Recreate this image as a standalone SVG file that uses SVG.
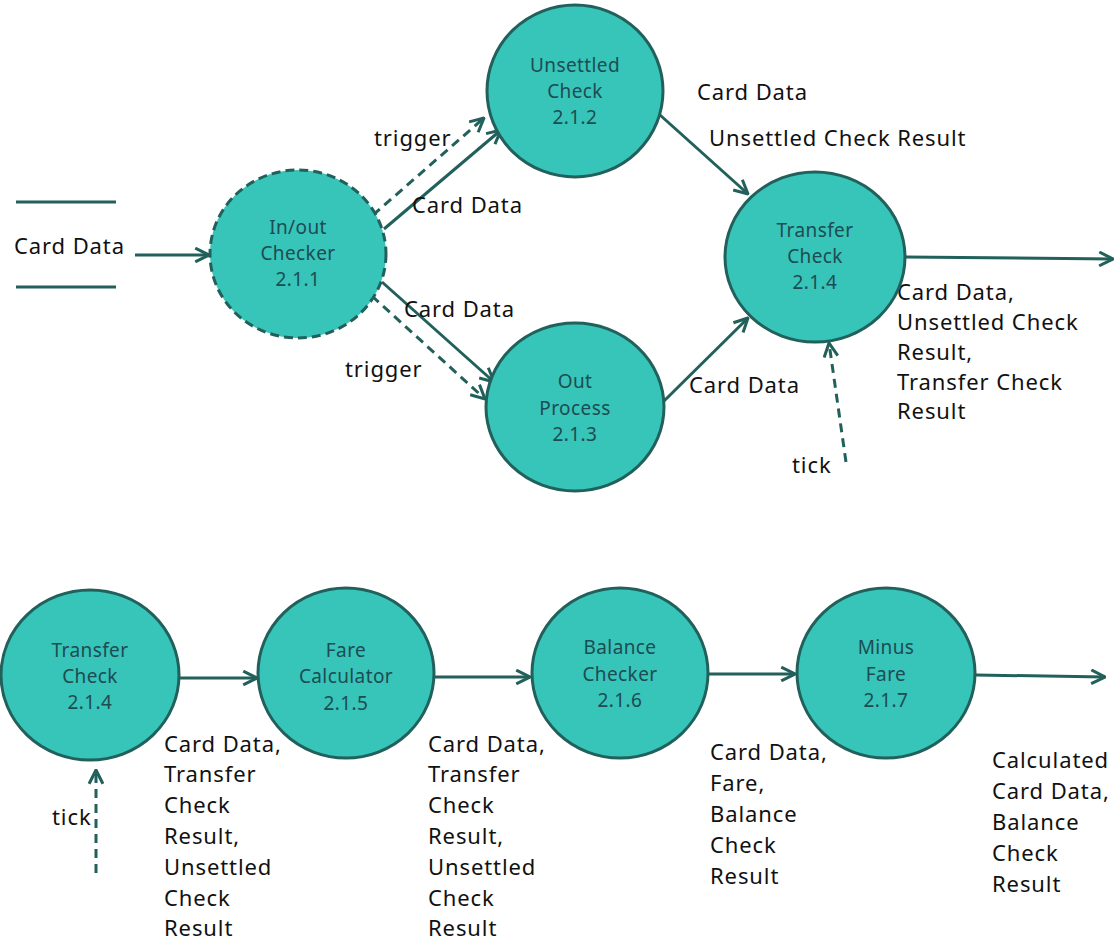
<svg xmlns="http://www.w3.org/2000/svg" width="1120" height="940" viewBox="0 0 1120 940">
  <style>
    .proc { fill: #37c4b9; stroke: #22605b; stroke-width: 3; }
    .proc.dashed { stroke-dasharray: 9 5; }
    .ntext { font-family: "Noto Sans", "Liberation Sans", sans-serif; font-size: 19px; letter-spacing: 0.4px; fill: #1d4c52; text-anchor: middle; }
    .label { font-family: "Noto Sans", "Liberation Sans", sans-serif; font-size: 22px; letter-spacing: 0.9px; fill: #111; }
    .flow { stroke: #22605b; stroke-width: 3; fill: none; marker-end: url(#arrow); }
    .flow.dashed { stroke-dasharray: 9 6; }
    .store { stroke: #22605b; stroke-width: 3; }
  </style>
  <defs>
    <marker id="arrow" viewBox="0 0 12 12" refX="11" refY="6" markerWidth="5.5" markerHeight="5.5" orient="auto" markerUnits="strokeWidth">
      <path d="M1,1 L11,6 L1,11" fill="none" stroke="#22605b" stroke-width="2.2"/>
    </marker>
  </defs>

  <rect width="1120" height="940" fill="#ffffff"/>

  <!-- data store: Card Data -->
  <g id="store-card-data">
    <line class="store" x1="16" y1="202" x2="116" y2="202"/>
    <line class="store" x1="16" y1="287" x2="116" y2="287"/>
    <text class="label" x="14" y="254">Card Data</text>
  </g>

  <!-- connectors -->
  <g id="connectors">
    <line class="flow" x1="135" y1="255" x2="209" y2="255"/>
    <line class="flow dashed" x1="373" y1="215" x2="484" y2="118"/>
    <line class="flow" x1="384" y1="229" x2="501" y2="130"/>
    <line class="flow" x1="382" y1="282" x2="494" y2="382"/>
    <line class="flow dashed" x1="372" y1="296" x2="485" y2="399"/>
    <line class="flow" x1="660" y1="115" x2="748" y2="194"/>
    <line class="flow" x1="663" y1="402" x2="748" y2="318"/>
    <line class="flow" x1="905" y1="257" x2="1113" y2="259"/>
    <line class="flow dashed" x1="846" y1="462" x2="829" y2="343"/>

    <line class="flow" x1="180" y1="678" x2="257" y2="678"/>
    <line class="flow" x1="434" y1="677" x2="530" y2="677"/>
    <line class="flow" x1="706" y1="674" x2="795" y2="674"/>
    <line class="flow" x1="976" y1="675" x2="1105" y2="677"/>
    <line class="flow dashed" x1="96" y1="873" x2="96" y2="770"/>
  </g>

  <!-- flow labels -->
  <g id="flow-labels">
    <text class="label" x="374" y="146">trigger</text>
    <text class="label" x="412" y="213">Card Data</text>
    <text class="label" x="404" y="317">Card Data</text>
    <text class="label" x="345" y="377">trigger</text>
    <text class="label" x="697" y="100">Card Data</text>
    <text class="label" x="709" y="146">Unsettled Check Result</text>
    <text class="label" x="689" y="393">Card Data</text>
    <text class="label" x="897" y="300">Card Data,</text>
    <text class="label" x="897" y="330">Unsettled Check</text>
    <text class="label" x="897" y="360">Result,</text>
    <text class="label" x="897" y="390">Transfer Check</text>
    <text class="label" x="897" y="419">Result</text>
    <text class="label" x="792" y="473">tick</text>

    <text class="label" x="52" y="825">tick</text>
    <text class="label" x="164" y="752">Card Data,</text>
    <text class="label" x="164" y="782">Transfer</text>
    <text class="label" x="164" y="813">Check</text>
    <text class="label" x="164" y="844">Result,</text>
    <text class="label" x="164" y="875">Unsettled</text>
    <text class="label" x="164" y="906">Check</text>
    <text class="label" x="164" y="936">Result</text>

    <text class="label" x="428" y="752">Card Data,</text>
    <text class="label" x="428" y="782">Transfer</text>
    <text class="label" x="428" y="813">Check</text>
    <text class="label" x="428" y="844">Result,</text>
    <text class="label" x="428" y="875">Unsettled</text>
    <text class="label" x="428" y="906">Check</text>
    <text class="label" x="428" y="936">Result</text>

    <text class="label" x="710" y="760">Card Data,</text>
    <text class="label" x="710" y="791">Fare,</text>
    <text class="label" x="710" y="822">Balance</text>
    <text class="label" x="710" y="853">Check</text>
    <text class="label" x="710" y="884">Result</text>

    <text class="label" x="992" y="768">Calculated</text>
    <text class="label" x="992" y="799">Card Data,</text>
    <text class="label" x="992" y="830">Balance</text>
    <text class="label" x="992" y="861">Check</text>
    <text class="label" x="992" y="892">Result</text>
  </g>

  <!-- processes, upper diagram -->
  <g id="p211">
    <ellipse class="proc dashed" cx="298" cy="254" rx="88" ry="84"/>
    <text class="ntext" x="298" y="234">In/out</text>
    <text class="ntext" x="298" y="260">Checker</text>
    <text class="ntext" x="298" y="286">2.1.1</text>
  </g>
  <g id="p212">
    <ellipse class="proc" cx="575" cy="91" rx="88" ry="86"/>
    <text class="ntext" x="575" y="72">Unsettled</text>
    <text class="ntext" x="575" y="98">Check</text>
    <text class="ntext" x="575" y="124">2.1.2</text>
  </g>
  <g id="p213">
    <ellipse class="proc" cx="575" cy="407" rx="89" ry="84"/>
    <text class="ntext" x="575" y="388">Out</text>
    <text class="ntext" x="575" y="415">Process</text>
    <text class="ntext" x="575" y="441">2.1.3</text>
  </g>
  <g id="p214">
    <ellipse class="proc" cx="815" cy="257" rx="90" ry="85"/>
    <text class="ntext" x="815" y="237">Transfer</text>
    <text class="ntext" x="815" y="263">Check</text>
    <text class="ntext" x="815" y="289">2.1.4</text>
  </g>

  <!-- processes, lower diagram -->
  <g id="p214b">
    <ellipse class="proc" cx="90" cy="675" rx="89" ry="85"/>
    <text class="ntext" x="90" y="657">Transfer</text>
    <text class="ntext" x="90" y="683">Check</text>
    <text class="ntext" x="90" y="709">2.1.4</text>
  </g>
  <g id="p215">
    <ellipse class="proc" cx="346" cy="673" rx="88" ry="85"/>
    <text class="ntext" x="346" y="657">Fare</text>
    <text class="ntext" x="346" y="683">Calculator</text>
    <text class="ntext" x="346" y="710">2.1.5</text>
  </g>
  <g id="p216">
    <ellipse class="proc" cx="620" cy="673" rx="88" ry="85"/>
    <text class="ntext" x="620" y="654">Balance</text>
    <text class="ntext" x="620" y="681">Checker</text>
    <text class="ntext" x="620" y="707">2.1.6</text>
  </g>
  <g id="p217">
    <ellipse class="proc" cx="886" cy="673" rx="89" ry="85"/>
    <text class="ntext" x="886" y="654">Minus</text>
    <text class="ntext" x="886" y="681">Fare</text>
    <text class="ntext" x="886" y="707">2.1.7</text>
  </g>
</svg>
